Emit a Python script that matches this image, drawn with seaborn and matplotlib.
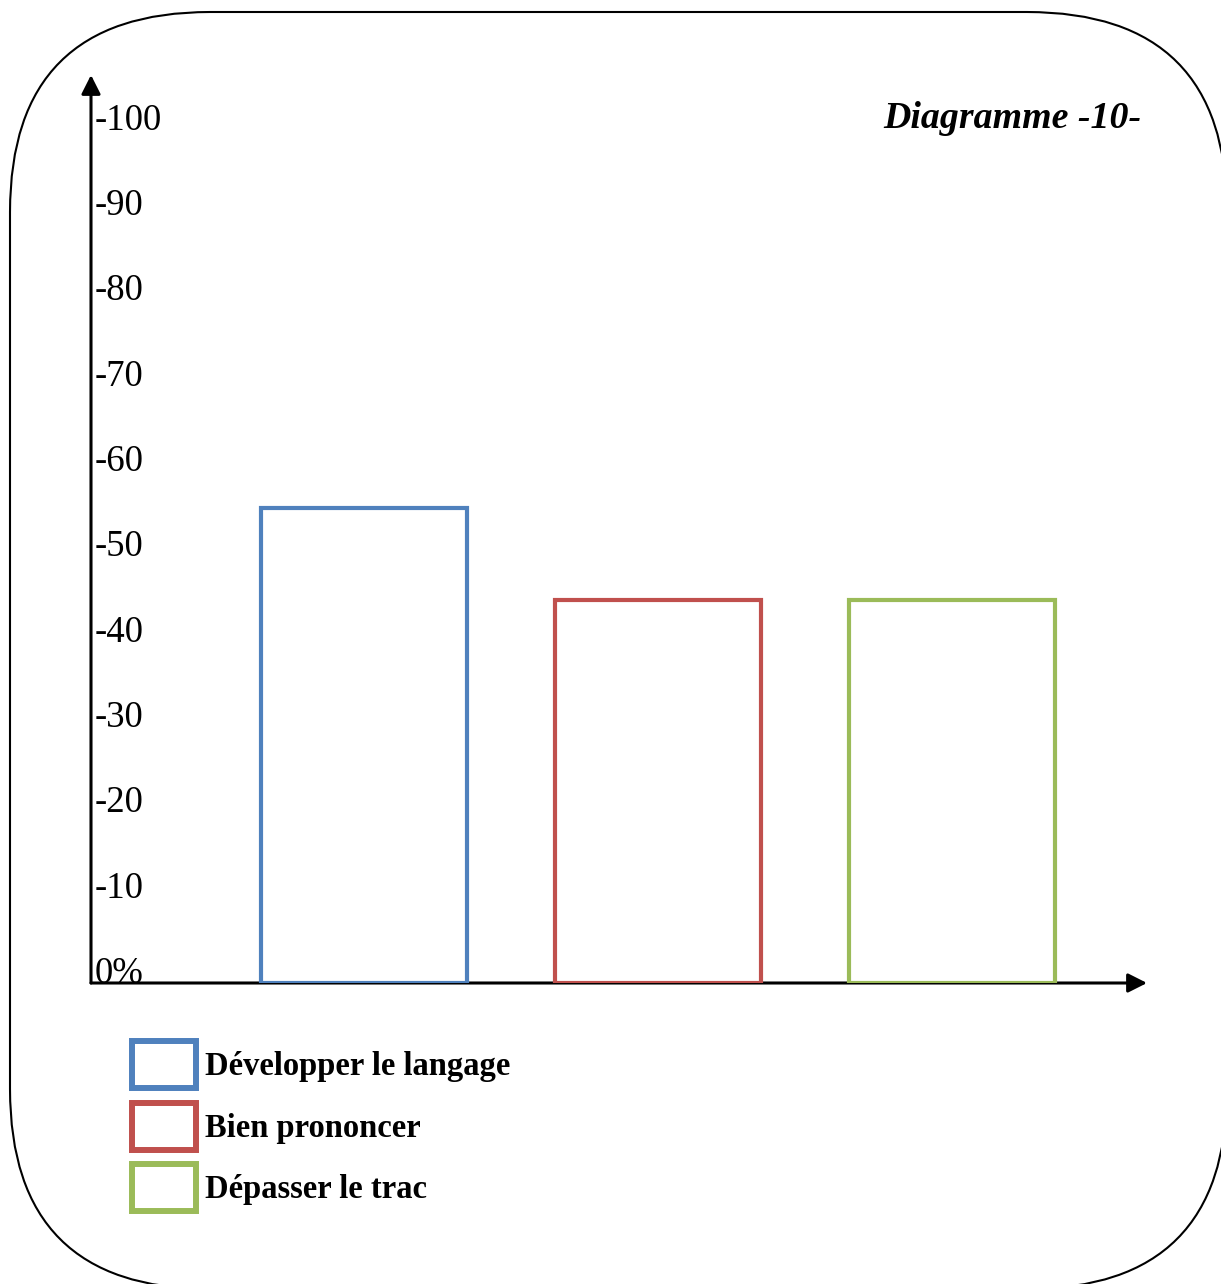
import matplotlib
matplotlib.use("Agg")
import matplotlib.pyplot as plt
import seaborn as sns
from matplotlib.patches import FancyBboxPatch, Patch
from matplotlib.transforms import IdentityTransform

# Chart data
categories = ["Développer le langage", "Bien prononcer", "Dépasser le trac"]
values = [55.7, 44.9, 44.9]
colors = ["#4F81BD", "#C0504D", "#9BBB59"]
tick_values = [0, 10, 20, 30, 40, 50, 60, 70, 80, 90, 100]
tick_labels = ["0%", "-10", "-20", "-30", "-40", "-50", "-60", "-70", "-80", "-90", "-100"]
title = "Diagramme -10-"

W, H = 1221, 1284
DPI = 100

sns.set_theme(style="white")
plt.rcParams["font.family"] = ["Liberation Serif", "DejaVu Serif"]
plt.rcParams["text.color"] = "black"

fig = plt.figure(figsize=(W / DPI, H / DPI), dpi=DPI)
fig.patch.set_facecolor("white")

# axes placed in pixel terms (origin top-left in the reference)
left, right, bottom, top = 91, 1147, 983, 75
ax = fig.add_axes([left / W, 1 - bottom / H, (right - left) / W, (bottom - top) / H])
ax.set_facecolor("none")

sns.barplot(x=categories, y=values, hue=categories, palette=colors, fill=False,
            linewidth=3, width=0.70, dodge=False, errorbar=None, legend=False, ax=ax)
for p in ax.patches:
    p.set_zorder(3)

ax.set_xlim(-0.929, 2.663)
ax.set_ylim(0, 106.4)
for s in ax.spines.values():
    s.set_visible(False)

ax.set_xticks([])
ax.set_xlabel("")
ax.set_yticks(tick_values)
ax.set_yticklabels(tick_labels)
ax.tick_params(axis="y", length=0, pad=-2.7, labelsize=26.5, colors="black")
for lbl in ax.get_yticklabels():
    lbl.set_horizontalalignment("left")
    lbl.set_verticalalignment("baseline")

# axis arrows
arrow_kw = dict(arrowstyle="-|>,head_length=1.15,head_width=0.58", mutation_scale=10,
                lw=2.2, color="black", shrinkA=0, shrinkB=0)
ax.annotate("", xy=(0, 1), xytext=(0, 0), xycoords="axes fraction",
            textcoords="axes fraction", arrowprops=arrow_kw, zorder=2)
ax.annotate("", xy=(1, 0), xytext=(0, 0), xycoords="axes fraction",
            textcoords="axes fraction", arrowprops=arrow_kw, zorder=2)

# title at top right
fig.text(1141 / W, 1 - 118 / H, title, ha="right", va="center", color="black",
         fontsize=27.3, fontweight="bold", fontstyle="italic")

# legend
handles = [Patch(facecolor="white", edgecolor=c, lw=4.3) for c in colors]
leg = fig.legend(handles, categories, loc="upper left",
                 bbox_to_anchor=(132 / W, 1 - 1041 / H), frameon=False,
                 prop={"weight": "bold", "size": 23.5}, handlelength=1.95,
                 handleheight=1.85, handletextpad=0.3, labelspacing=0.44,
                 borderpad=0, borderaxespad=0)
for t in leg.get_texts():
    t.set_color("black")

# rounded frame around everything (opaque face so the curves are not clipped)
fx0, fy0, fx1, fy1 = 10, 12, 1227, 1289
frame = FancyBboxPatch((fx0, H - fy1), fx1 - fx0, fy1 - fy0,
                       boxstyle="round,pad=0,rounding_size=200",
                       transform=IdentityTransform(), facecolor="white",
                       edgecolor="black", lw=1.5, zorder=-1)
fig.add_artist(frame)

fig.savefig("out.png", dpi=DPI)
